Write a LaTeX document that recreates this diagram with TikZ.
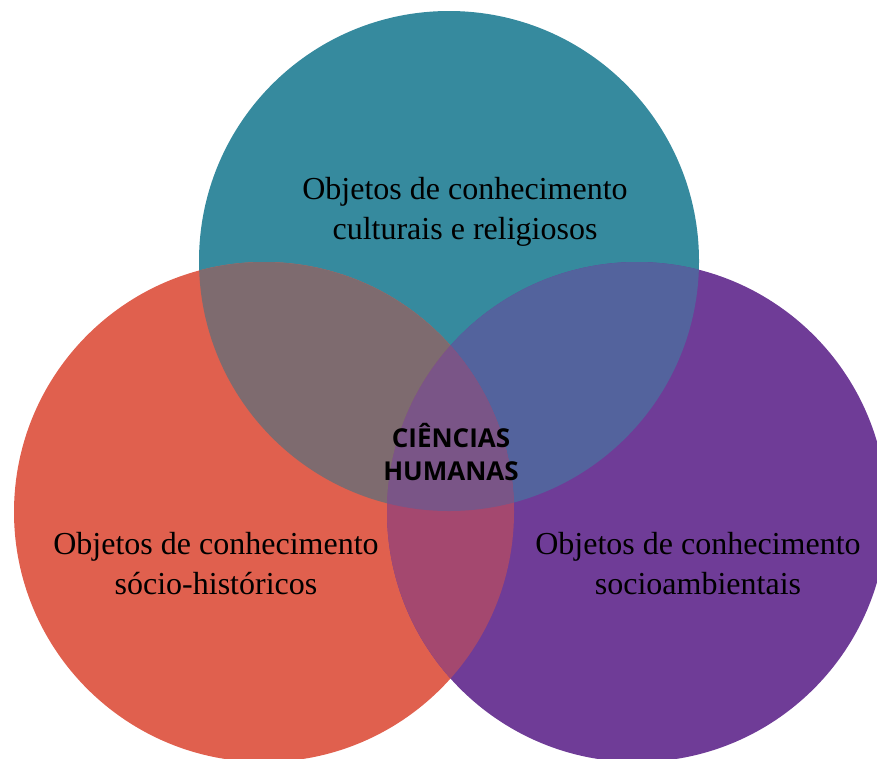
\documentclass[tikz,border=0pt]{standalone}
\usepackage{fontspec}
\setmainfont{Liberation Serif}
\newfontfamily\opensans{Open Sans}
\usetikzlibrary{backgrounds}
\definecolor{teal}{RGB}{54,138,158}
\definecolor{coral}{RGB}{224,96,78}
\definecolor{roxo}{RGB}{111,60,151}
\definecolor{tealcoral}{RGB}{126,107,111}
\definecolor{tealroxo}{RGB}{83,99,157}
\definecolor{coralroxo}{RGB}{164,72,111}
\definecolor{meio}{RGB}{122,85,135}
\tikzset{l/.style={font=\fontsize{32}{40}\selectfont,align=center,text=black}}
\tikzset{m/.style={font=\opensans\bfseries\fontsize{26}{33}\selectfont,align=center,text=black}}
\tikzset{r/.style={radius=250pt}}

\begin{document}
\begin{tikzpicture}[x=1pt,y=-1pt,line join=round]
  \useasboundingbox (0,0) rectangle (877,758);
  \clip (0,0) rectangle (877,758);
  \coordinate (ct) at (449,261);
  \coordinate (cl) at (264,512);
  \coordinate (cr) at (637,512);
  % circles
  \fill[teal] (ct) circle[r];
  \fill[coral] (cl) circle[r];
  \fill[roxo] (cr) circle[r];
  % overlaps
  \begin{scope}
    \clip (ct) circle[r];
    \fill[tealcoral] (cl) circle[r];
  \end{scope}
  \begin{scope}
    \clip (ct) circle[r];
    \fill[tealroxo] (cr) circle[r];
  \end{scope}
  \begin{scope}
    \clip (cl) circle[r];
    \fill[coralroxo] (cr) circle[r];
  \end{scope}
  \begin{scope}
    \clip (ct) circle[r];
    \clip (cl) circle[r];
    \fill[meio] (cr) circle[r];
  \end{scope}
  % labels
  \node[l] (cultural) at (465,212) {Objetos de conhecimento\\culturais e religiosos};
  \node[l] (historico) at (216,564) {Objetos de conhecimento\\sócio-históricos};
  \node[l] (ambiental) at (698,564) {Objetos de conhecimento\\socioambientais};
  \node[m] (centro) at (451,452) {CIÊNCIAS\\HUMANAS};
\end{tikzpicture}
\end{document}
